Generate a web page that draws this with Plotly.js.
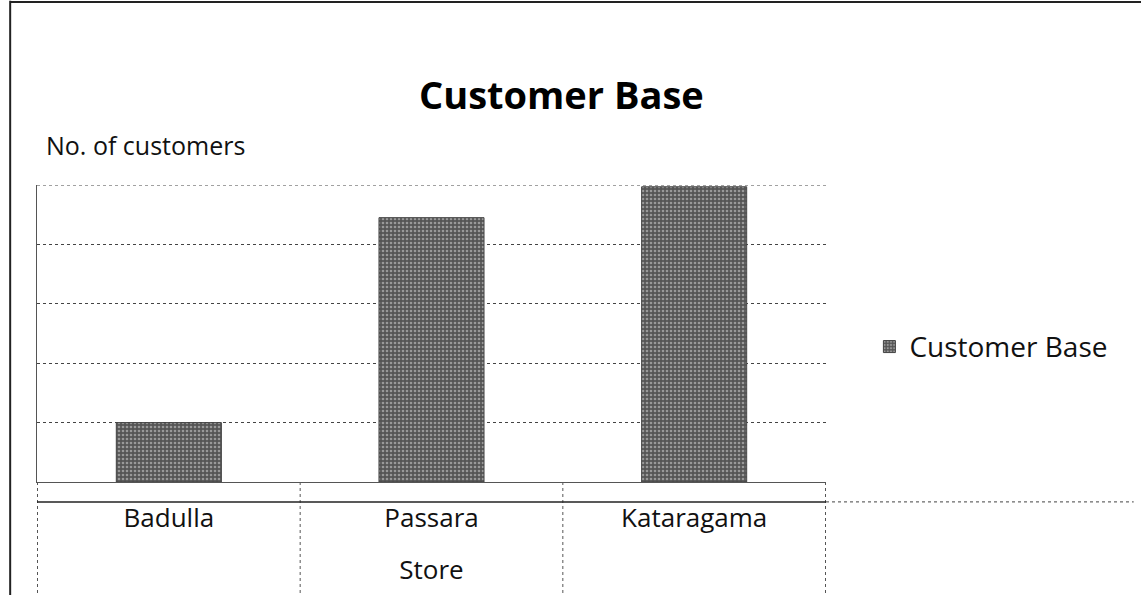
<!DOCTYPE html>
<html><head><meta charset="utf-8">
<script src="https://cdn.plot.ly/plotly-3.0.1.min.js"></script>
<style>html,body{margin:0;padding:0;background:#fff}#chart{width:1141px;height:595px}</style>
</head><body><div id="chart"></div>
<script>
const stores = ["Badulla", "Passara", "Kataragama"];
const customerBase = [1, 4.45, 4.97];
const seriesName = "Customer Base";
const chartTitle = "Customer Base";
const yTitle = "No. of customers";
const xTitle = "Store";

const FONT = "Open Sans, Liberation Sans, sans-serif";
const trace = {
  type: "bar", x: stores, y: customerBase, name: seriesName,
  marker: {color: "#666", line: {color: "#444", width: 1},
           pattern: {shape: ".", fgcolor: "#999", bgcolor: "#555", size: 4, solidity: 0.35}},
  showlegend: true
};
const shapes = [];
[-0.5, 0.5, 1.5, 2.5].forEach(v => shapes.push({type: "line", xref: "x", yref: "paper", x0: v, x1: v, y0: 0, y1: -0.38,
  line: {color: "#555", width: 1, dash: "dot"}}));
shapes.push({type: "line", xref: "paper", yref: "y", x0: 0, x1: 1, y0: 5, y1: 5, layer: "below", line: {color: "#444", width: 1, dash: "dot"}});
shapes.push({type: "line", xref: "paper", yref: "paper", x0: 0, x1: 1, y0: -0.067, y1: -0.067, line: {color: "#222", width: 1.5}});
shapes.push({type: "line", xref: "paper", yref: "paper", x0: 1, x1: 1.39, y0: -0.067, y1: -0.067, line: {color: "#444", width: 1, dash: "dot"}});
shapes.push({type: "line", xref: "paper", yref: "paper", x0: -0.034, x1: -0.034, y0: -0.4, y1: 1.62, line: {color: "#222", width: 2}});
shapes.push({type: "line", xref: "paper", yref: "paper", x0: -0.034, x1: 1.40, y0: 1.616, y1: 1.616, line: {color: "#222", width: 2}});

const layout = {
  width: 1141, height: 595,
  margin: {l: 37, r: 315, t: 185, b: 113},
  paper_bgcolor: "#fff", plot_bgcolor: "#fff",
  font: {family: FONT, color: "#111"},
  title: {text: "<b>" + chartTitle + "</b>", x: 0.492, xanchor: "center", y: 0.84, yanchor: "middle",
          font: {family: FONT, size: 38, color: "#000"}},
  bargap: 0.6,
  xaxis: {showgrid: false, zeroline: false, showline: true, linecolor: "#555", linewidth: 1,
          tickfont: {family: FONT, size: 26, color: "#111"}, ticks: "", ticklabelstandoff: 13,
          title: {text: xTitle, font: {family: FONT, size: 26, color: "#111"}, standoff: 26}},
  yaxis: {range: [0, 5], dtick: 1, showticklabels: false, showgrid: true, gridcolor: "#444",
          griddash: "dot", gridwidth: 1, zeroline: false, showline: true, linecolor: "#555", linewidth: 1},
  legend: {x: 1.055, xanchor: "left", y: 0.455, yanchor: "middle", font: {family: FONT, size: 28, color: "#111"},
           itemwidth: 30, bgcolor: "rgba(0,0,0,0)"},
  shapes: shapes,
  annotations: [{text: yTitle, xref: "paper", yref: "paper", x: 0.009, y: 1.135, xanchor: "left", yanchor: "middle",
                 showarrow: false, font: {family: FONT, size: 25, color: "#111"}}]
};
Plotly.newPlot("chart", [trace], layout, {displayModeBar: false, staticPlot: true});
</script></body></html>
